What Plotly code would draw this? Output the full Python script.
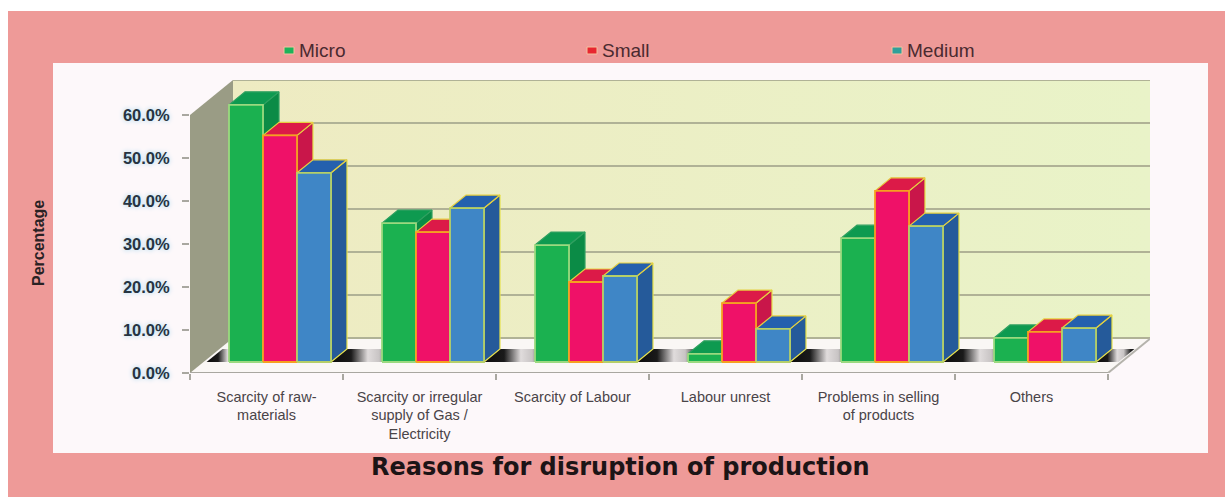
import plotly.graph_objects as go

categories = ["Scarcity of raw-<br>materials", "Scarcity or irregular<br>supply of Gas /<br>Electricity",
              "Scarcity of Labour", "Labour unrest", "Problems in selling<br>of products", "Others"]
micro = [59.8, 32.3, 27.2, 1.9, 28.8, 5.6]
small = [52.7, 30.2, 18.6, 13.7, 39.8, 7.0]
medium = [44.0, 35.8, 20.0, 7.7, 31.6, 7.9]
y_ticks = [0, 10, 20, 30, 40, 50, 60]
y_labels = ["0.0%", "10.0%", "20.0%", "30.0%", "40.0%", "50.0%", "60.0%"]

W, H = 1225, 497
L, R, T, B = 190, 75, 80, 124
PX_X = 153.0
PX_Y = 4.3
DX = 43 / PX_X
DY = 35 / PX_Y
D0, D1 = 11 / 35, 24 / 35
BAR_W = 34 / PX_X
GROUP_W = 3 * BAR_W
x_max = (W - L - R) / PX_X
y_max = (H - T - B) / PX_Y


def px(x):
    return (x - L) / (W - L - R)


def py(y):
    return (H - B - y) / (H - T - B)


def proj(pts):
    xs = [p[0] + p[2] * DX for p in pts]
    ys = [p[1] + p[2] * DY for p in pts]
    return xs, ys


fig = go.Figure()


def poly(pts, fill, line=None, lw=1.5, gradient=None):
    xs, ys = proj(pts + [pts[0]])
    kw = dict(fillcolor=fill)
    if gradient:
        kw = dict(fillgradient=gradient)
    fig.add_trace(go.Scatter(x=xs, y=ys, mode="lines", fill="toself",
                             line=dict(color=line or "rgba(0,0,0,0)", width=lw if line else 0),
                             showlegend=False, hoverinfo="skip", cliponaxis=False, **kw))


def seg(pts, color, lw=2):
    xs, ys = proj(pts)
    fig.add_trace(go.Scatter(x=xs, y=ys, mode="lines", line=dict(color=color, width=lw),
                             showlegend=False, hoverinfo="skip", cliponaxis=False))


top_val = y_ticks[-1]
# floor
poly([(0, 0, 0), (6, 0, 0), (6, 0, 1), (0, 0, 1)], "#FAF7F5")
# back wall
poly([(0, 0, 1), (x_max - DX, 0, 1), (x_max - DX, top_val, 1), (0, top_val, 1)], "#ECF0C4",
     gradient=dict(type="horizontal", colorscale=[[0, "#EEEBC2"], [1, "#E9F3C8"]]))
# side wall
poly([(0, 0, 0), (0, 0, 1), (0, top_val, 1), (0, top_val, 0)], "#9A9C85")
# grid on back wall
for v in y_ticks:
    seg([(0, v, 1), (x_max - DX, v, 1)], "#B0B296", 2)
seg([(6, 0, 0), (6, 0, 1)], "#B5B3AC", 2)
seg([(0, 0, 0), (6, 0, 0)], "#A9A7A0", 2)

# floor shadows between groups
shade = [[0, "#0c0c0c"], [0.3, "#1a1a1a"], [0.55, "#e0dcdc"], [0.72, "#c8c4c4"], [0.9, "#222222"], [1, "#111111"]]
g_left = [i + 0.5 - GROUP_W / 2 for i in range(6)]
g_right = [i + 0.5 + GROUP_W / 2 for i in range(6)]
edges = [(0.02, g_left[0])] + [(g_right[i], g_left[i + 1]) for i in range(5)] + [(g_right[5], 5.98)]
for a, b in edges:
    poly([(a, 0, D0), (b, 0, D0), (b, 0, D1), (a, 0, D1)], "#222222",
         gradient=dict(type="horizontal", colorscale=shade))

series = [
    ("Micro", micro, "#1BB150", "#0B8B46", "#0E9A50", "#9BD97F"),
    ("Small", small, "#EF1168", "#C9164A", "#DC1A48", "#F6A020"),
    ("Medium", medium, "#3F86C6", "#255A9A", "#2460AE", "#B5CF68"),
]
for i in range(6):
    for j, (name, vals, front, side, top, edge) in enumerate(series):
        v = vals[i]
        x0 = g_left[i] + j * BAR_W
        x1 = x0 + BAR_W
        poly([(x1, 0, D0), (x1, 0, D1), (x1, v, D1), (x1, v, D0)], side, "#E6E04A" if j else "#2FA060", 1.2)
        poly([(x0, v, D0), (x1, v, D0), (x1, v, D1), (x0, v, D1)], top, "#E6D040" if j else "#2FA060", 1.2)
        poly([(x0, 0, D0), (x1, 0, D0), (x1, v, D0), (x0, v, D0)], front, edge, 1.8)

shapes = [
    dict(type="rect", xref="paper", yref="paper", x0=px(8), x1=px(1225), y0=py(11), y1=py(497),
         fillcolor="#EE9A98", line_width=0, layer="below"),
    dict(type="rect", xref="paper", yref="paper", x0=px(53), x1=px(1208), y0=py(63), y1=py(453),
         fillcolor="#FDF8FA", line_width=0, layer="below"),
]
annotations = []
legend_pos = [("Micro", 289, "#1DB35A"), ("Small", 592, "#E8262F"), ("Medium", 897, "#2FA09A")]
for name, lx, col in legend_pos:
    shapes.append(dict(type="rect", xref="paper", yref="paper", x0=px(lx - 5), x1=px(lx + 5), y0=py(54), y1=py(47),
                       fillcolor=col, line=dict(color="#F5C0A0", width=1), layer="above"))
    annotations.append(dict(xref="paper", yref="paper", x=px(lx + 8), y=py(50), text=name, showarrow=False,
                            xanchor="left", yanchor="middle", font=dict(family="Liberation Sans", size=19, color="#4A2A30")))
annotations.append(dict(xref="paper", yref="paper", x=px(620), y=py(467), text="<b>Reasons for disruption of production</b>",
                        showarrow=False, xanchor="center", yanchor="middle",
                        font=dict(family="DejaVu Sans", size=24, color="#1C1416")))
annotations.append(dict(xref="paper", yref="paper", x=px(38), y=py(243), text="<b>Percentage</b>", textangle=-90,
                        showarrow=False, xanchor="center", yanchor="middle",
                        font=dict(family="Liberation Sans", size=16, color="#2A2224")))

fig.update_layout(
    width=W, height=H, margin=dict(l=L, r=R, t=T, b=B, autoexpand=False),
    paper_bgcolor="white", plot_bgcolor="rgba(0,0,0,0)", showlegend=False,
    shapes=shapes, annotations=annotations,
    xaxis=dict(range=[0, x_max], tickmode="array", tickvals=[i + 0.5 for i in range(6)], ticktext=categories,
               ticks="", showline=False, showgrid=False, zeroline=False,
               minor=dict(ticks="outside", tickmode="linear", tick0=0, dtick=1, ticklen=6, tickcolor="#A9A7A0",
                          tickwidth=1.5, showgrid=False),
               tickangle=0, ticklabelstandoff=13,
               tickfont=dict(family="Liberation Sans", size=14.5, color="#4A4448")),
    yaxis=dict(range=[0, y_max], tickmode="array", tickvals=y_ticks, ticktext=y_labels,
               ticks="outside", ticklen=7, tickcolor="#A9A7A0", tickwidth=1.5,
               showline=False, showgrid=False, zeroline=False, ticklabelstandoff=9,
               tickfont=dict(family="Liberation Sans", size=16.5, color="#263442", weight="bold",
                             shadow="0 0 5px #9FD3EC")),
)

fig.write_html("out.html", config={"displayModeBar": False},
               post_script="document.body.style.margin='0';document.documentElement.style.overflow='hidden';")
